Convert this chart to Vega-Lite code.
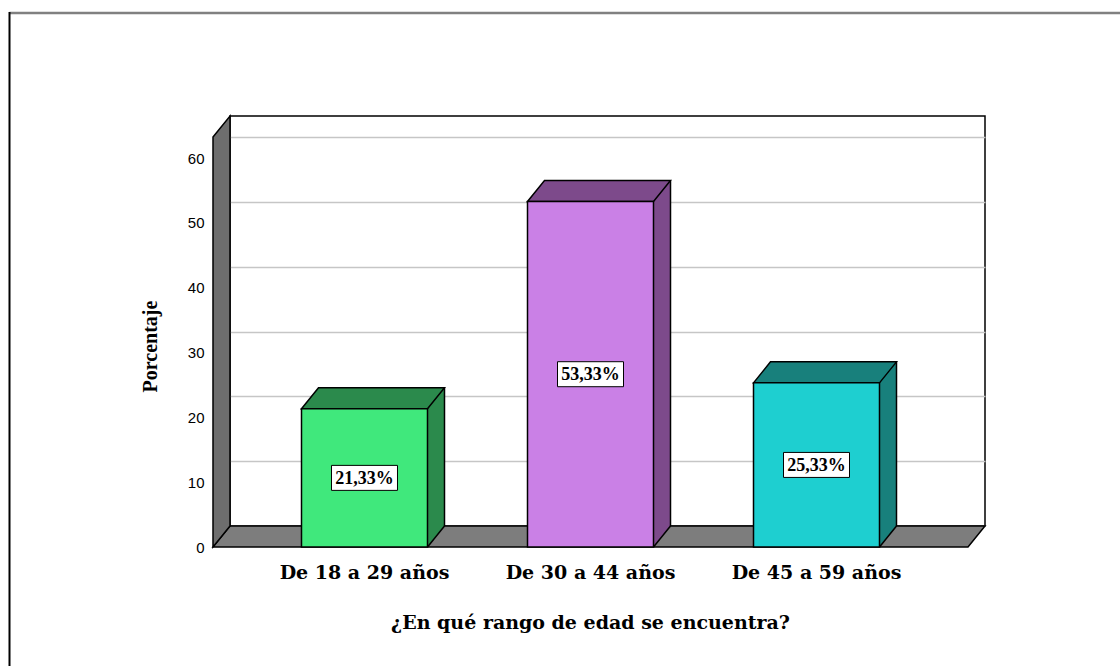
{
  "$schema": "https://vega.github.io/schema/vega-lite/v6.json",
  "autosize": {"type": "none"},
  "width": 755,
  "height": 410,
  "padding": {"left": 230, "top": 116, "right": 135, "bottom": 140},
  "background": "#ffffff",
  "config": {
    "view": {"stroke": "#000000", "strokeWidth": 1.5},
    "axis": {"labelColor": "#000000", "titleColor": "#000000"}
  },
  "data": {
    "values": [
      {"rango": "De 18 a 29 años", "porcentaje": 21.33, "etiqueta": "21,33%"},
      {"rango": "De 30 a 44 años", "porcentaje": 53.33, "etiqueta": "53,33%"},
      {"rango": "De 45 a 59 años", "porcentaje": 25.33, "etiqueta": "25,33%"}
    ]
  },
  "resolve": {"scale": {"y": "independent"}},
  "layer": [
    {
      "layer": [
        {
          "data": {"values": [{}]},
          "mark": {"type": "point", "shape": "M -598 -513 L 742.5 -513", "size": 4, "filled": false, "stroke": "#808080", "strokeWidth": 2.5, "opacity": 1},
          "encoding": {"y": {"datum": 0, "type": "quantitative"}}
        },
        {
          "data": {"values": [{}]},
          "mark": {"type": "point", "shape": "M -598 -514 L -598 256", "size": 4, "filled": false, "stroke": "#000000", "strokeWidth": 2, "opacity": 1},
          "encoding": {"y": {"datum": 0, "type": "quantitative"}}
        },
        {
          "data": {"values": [{}]},
          "mark": {"type": "point", "shape": "M -394.5 21 L -377.5 0 L 377.5 0 L 360.5 21 Z", "size": 4, "filled": true, "fill": "#7d7d7d", "stroke": "#000000", "strokeWidth": 1.5, "opacity": 1},
          "encoding": {"y": {"datum": 0, "type": "quantitative"}}
        },
        {
          "data": {"values": [{}]},
          "mark": {"type": "point", "shape": "M -394.5 -389 L -377.5 -410 L -377.5 0 L -394.5 21 Z", "size": 4, "filled": true, "fill": "#6e6e6e", "stroke": "#000000", "strokeWidth": 1.5, "opacity": 1},
          "encoding": {"y": {"datum": 0, "type": "quantitative"}}
        },
        {
          "mark": {"type": "bar", "width": 17, "xOffset": 54.5},
          "encoding": {
            "x": {
              "field": "rango", "type": "nominal", "sort": null,
              "scale": {"domain": ["De 18 a 29 años", "De 30 a 44 años", "De 45 a 59 años"], "paddingInner": 0.4425, "paddingOuter": 0.3916},
              "axis": {
                "title": "¿En qué rango de edad se encuentra?",
                "offset": 21, "labelOffset": -17, "ticks": false, "domain": false, "grid": false,
                "labelAngle": 0, "labelFont": "DejaVu Serif", "labelFontWeight": "bold", "labelFontSize": 19, "labelPadding": 16,
                "titleFont": "DejaVu Serif", "titleFontWeight": "bold", "titleFontSize": 19,
                "titleX": 360, "titleY": 75, "titleBaseline": "middle", "titleAlign": "center"
              }
            },
            "y": {
              "field": "porcentaje", "type": "quantitative",
              "scale": {"domain": [0, 63.27], "nice": false, "zero": true},
              "axis": {
                "title": "Porcentaje", "values": [0, 10, 20, 30, 40, 50, 60],
                "offset": 17, "labelOffset": 21, "ticks": false, "domain": false,
                "grid": true, "gridColor": "#c6c6c6", "gridWidth": 1.5,
                "labelFont": "Liberation Sans", "labelFontSize": 15, "labelPadding": 9,
                "titleFont": "Liberation Serif", "titleFontWeight": "bold", "titleFontSize": 20,
                "titleX": -63, "titleY": 230, "titleAngle": -90, "titleBaseline": "middle", "titleAlign": "center"
              }
            },
            "y2": {"datum": 0},
            "color": {"field": "rango", "type": "nominal", "scale": {"domain": ["De 18 a 29 años", "De 30 a 44 años", "De 45 a 59 años"], "range": ["#2b8a4c", "#7d4a8b", "#18807c"]}, "legend": null}
          }
        },
        {
          "mark": {"type": "point", "shape": "M 45.5 21 L 45.5 0 L 63 0 Z", "size": 4, "filled": true, "strokeWidth": 0, "opacity": 1},
          "encoding": {
            "x": {"field": "rango", "type": "nominal", "sort": null},
            "y": {"datum": 0, "type": "quantitative"},
            "color": {"field": "rango", "type": "nominal", "legend": null}
          }
        },
        {
          "mark": {"type": "point", "shape": "M -80 21 L -63 0 L 63 0 L 46 21 Z", "size": 4, "filled": true, "stroke": "#000000", "strokeWidth": 1.5, "strokeJoin": "miter", "opacity": 1},
          "encoding": {
            "x": {"field": "rango", "type": "nominal", "sort": null},
            "y": {"field": "porcentaje", "type": "quantitative"},
            "color": {"field": "rango", "type": "nominal", "legend": null}
          }
        },
        {
          "mark": {"type": "rule", "xOffset": 63, "color": "#000000", "strokeWidth": 1.5},
          "encoding": {
            "x": {"field": "rango", "type": "nominal", "sort": null},
            "y": {"field": "porcentaje", "type": "quantitative"},
            "y2": {"datum": 0}
          }
        },
        {
          "mark": {"type": "point", "shape": "M 46 21 L 63 0", "size": 4, "filled": false, "stroke": "#000000", "strokeWidth": 1.5, "opacity": 1},
          "encoding": {
            "x": {"field": "rango", "type": "nominal", "sort": null},
            "y": {"datum": 0, "type": "quantitative"}
          }
        },
        {
          "mark": {"type": "bar", "xOffset": -17, "yOffset": 21, "y2Offset": 21, "stroke": "#000000", "strokeWidth": 1.5},
          "encoding": {
            "x": {"field": "rango", "type": "nominal", "sort": null},
            "y": {"field": "porcentaje", "type": "quantitative"},
            "y2": {"datum": 0},
            "fill": {"field": "rango", "type": "nominal", "scale": {"domain": ["De 18 a 29 años", "De 30 a 44 años", "De 45 a 59 años"], "range": ["#40e87c", "#ca80e6", "#1ecfd0"]}, "legend": null}
          }
        }
      ]
    },
    {
      "layer": [
        {
          "mark": {"type": "point", "shape": "M -33 -12.5 L 33 -12.5 L 33 12.5 L -33 12.5 Z", "size": 4, "filled": true, "fill": "#ffffff", "stroke": "#000000", "strokeWidth": 1, "opacity": 1, "xOffset": -17, "yOffset": 21},
          "encoding": {
            "x": {"field": "rango", "type": "nominal", "sort": null},
            "y": {"field": "porcentaje", "type": "quantitative", "scale": {"domain": [0, 126.54], "nice": false, "zero": true}, "axis": null}
          }
        },
        {
          "mark": {"type": "text", "font": "Liberation Serif", "fontWeight": "bold", "fontSize": 18, "color": "#000000", "align": "center", "baseline": "middle", "xOffset": -17, "yOffset": 22},
          "encoding": {
            "x": {"field": "rango", "type": "nominal", "sort": null},
            "y": {"field": "porcentaje", "type": "quantitative", "axis": null},
            "text": {"field": "etiqueta", "type": "nominal"}
          }
        }
      ]
    }
  ]
}
